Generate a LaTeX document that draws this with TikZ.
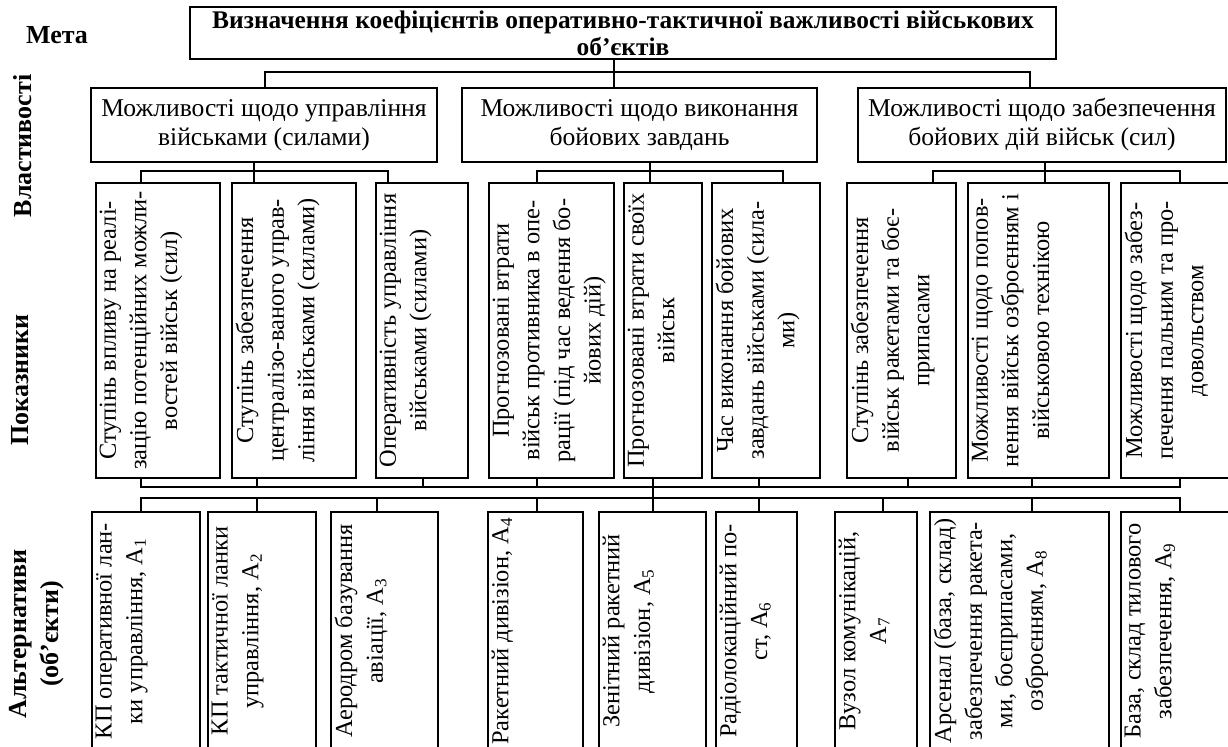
\documentclass[tikz,border=0pt]{standalone}
\usepackage{fontspec}
\setmainfont{Liberation Serif}

\begin{document}
\begin{tikzpicture}[x=0.5pt,y=-0.5pt,
	box/.style={draw,line width=0.7pt,inner sep=0pt},
	goalbox/.style={box,minimum width=433pt,minimum height=26pt,align=center,font=\bfseries\fontsize{12.7}{13.5}\selectfont},
	pbox/.style={box,minimum height=37pt,align=center,font=\fontsize{12.8}{14.5}\selectfont},
	ibox/.style={box,minimum height=147.5pt},
	abox/.style={box,minimum height=119pt},
	vtext/.style={rotate=90,anchor=north,align=center,inner xsep=0pt,inner ysep=2pt,font=\fontsize{12.2}{15.3}\selectfont},
	side/.style={inner sep=0pt,align=center,font=\bfseries\fontsize{13}{16}\selectfont},
	link/.style={line width=0.7pt}]
	
	\fill[white] (0,0) rectangle (1228,747);
	\useasboundingbox (0,0) rectangle (1228,747);
	\clip (0,0) rectangle (1228,747);
	
	% row titles
	\node[side] (meta) at (57,35) {Мета};
	\node[side,rotate=90] (vlast) at (23,146) {Властивості};
	\node[side,rotate=90] (pokaz) at (20,380) {Показники};
	\node[side,rotate=90] (alter) at (37,634) {Альтернативи\\(об’єкти)};
	
	% goal
	\node[goalbox] (goal) at (623,33) {Визначення коефіцієнтів оперативно-тактичної важливості військових\\об’єктів};
	
	% properties
	\node[pbox,minimum width=173pt] (P1) at (264,125) {Можливості щодо управління\\військами (силами)};
	\node[pbox,minimum width=177.5pt] (P2) at (639.5,125) {Можливості щодо виконання\\бойових завдань};
	\node[pbox,minimum width=184pt] (P3) at (1042,125) {Можливості щодо забезпечення\\бойових дій військ (сил)};
	
	% indicators
	\node[ibox,minimum width=62pt] (I1) at (158,330.5) {};
	\node[ibox,minimum width=62pt] (I2) at (294,330.5) {};
	\node[ibox,minimum width=46pt] (I3) at (422,330.5) {};
	\node[ibox,minimum width=62.5pt] (I4) at (551.5,330.5) {};
	\node[ibox,minimum width=39pt] (I5) at (663,330.5) {};
	\node[ibox,minimum width=54pt] (I6) at (766,330.5) {};
	\node[ibox,minimum width=54.5pt] (I7) at (901.5,330.5) {};
	\node[ibox,minimum width=70.5pt] (I8) at (1038.5,330.5) {};
	\node[ibox,minimum width=55.5pt] (I9) at (1176.5,330.5) {};
	
	\node[vtext] (I1t) at (I1.west) {Ступінь впливу на реалі-\\зацію потенційних можли-\\востей військ (сил)};
	\node[vtext] (I2t) at (I2.west) {Ступінь забезпечення\\централізо-ваного управ-\\ління військами (силами)};
	\node[vtext] (I3t) at (I3.west) {Оперативність управління\\військами (силами)};
	\node[vtext] (I4t) at (I4.west) {Прогнозовані втрати\\військ противника в опе-\\рації (під час ведення бо-\\йових дій)};
	\node[vtext] (I5t) at (I5.west) {Прогнозовані втрати своїх\\військ};
	\node[vtext] (I6t) at (I6.west) {Час виконання бойових\\завдань військами (сила-\\ми)};
	\node[vtext] (I7t) at (I7.west) {Ступінь забезпечення\\військ ракетами та боє-\\припасами};
	\node[vtext] (I8t) at (I8.west) {Можливості щодо попов-\\нення військ озброєнням і\\військовою технікою};
	\node[vtext] (I9t) at (I9.west) {Можливості щодо забез-\\печення пальним та про-\\довольством};
	
	% alternatives
	\node[abox,minimum width=54pt] (A1) at (146,631) {};
	\node[abox,minimum width=54pt] (A2) at (262,631) {};
	\node[abox,minimum width=53.5pt] (A3) at (384.5,631) {};
	\node[abox,minimum width=47.5pt] (A4) at (535.5,631) {};
	\node[abox,minimum width=53.5pt] (A5) at (652.5,631) {};
	\node[abox,minimum width=40.5pt] (A6) at (756.5,631) {};
	\node[abox,minimum width=41pt] (A7) at (876,631) {};
	\node[abox,minimum width=89.5pt] (A8) at (1019.5,631) {};
	\node[abox,minimum width=55.5pt] (A9) at (1176.5,631) {};
	
	\node[vtext] (A1t) at (A1.west) {КП оперативної лан-\\ки управління, A\textsubscript{1}};
	\node[vtext] (A2t) at (A2.west) {КП тактичної ланки\\управління, A\textsubscript{2}};
	\node[vtext] (A3t) at (A3.west) {Аеродром базування\\авіації, A\textsubscript{3}};
	\node[vtext] (A4t) at (A4.west) {Ракетний дивізіон, A\textsubscript{4}};
	\node[vtext] (A5t) at (A5.west) {Зенітний ракетний\\дивізіон, A\textsubscript{5}};
	\node[vtext] (A6t) at (A6.west) {Радіолокаційний по-\\ст, A\textsubscript{6}};
	\node[vtext] (A7t) at (A7.west) {Вузол комунікацій,\\A\textsubscript{7}};
	\node[vtext] (A8t) at (A8.west) {Арсенал (база, склад)\\забезпечення ракета-\\ми, боєприпасами,\\озброєнням, A\textsubscript{8}};
	\node[vtext] (A9t) at (A9.west) {База, склад тилового\\забезпечення, A\textsubscript{9}};
	
	% goal -> properties
	\draw[link] (614,0 |- goal.south) -- (614,0 |- P2.north);
	\draw[link] (265,0 |- P1.north) |- (1030,72) -- (1030,0 |- P3.north);
	
	% properties -> indicators
	\draw[link] (254,0 |- P1.south) -- (254,0 |- I2.north);
	\draw[link] (141,0 |- I1.north) |- (388,171) -- (388,0 |- I3.north);
	\draw[link] (650,0 |- P2.south) -- (650,0 |- I5.north);
	\draw[link] (537,0 |- I4.north) |- (783,171) -- (783,0 |- I6.north);
	\draw[link] (1045,0 |- P3.south) -- (1045,0 |- I8.north);
	\draw[link] (933,0 |- I7.north) |- (1180,171) -- (1180,0 |- I9.north);
	
	% indicators -> alternatives
	\draw[link] (141,0 |- I1.south) |- (1180,487) -- (1180,0 |- I9.south);
	\draw[link] (257,0 |- I2.south) -- (257,487);
	\draw[link] (423,0 |- I3.south) -- (423,487);
	\draw[link] (537,0 |- I4.south) -- (537,487);
	\draw[link] (759,0 |- I6.south) -- (759,487);
	\draw[link] (908,0 |- I7.south) -- (908,487);
	\draw[link] (1032,0 |- I8.south) -- (1032,487);
	\draw[link] (653,0 |- I5.south) -- (653,0 |- A5.north);
	\draw[link] (141,0 |- A1.north) |- (1180,498) -- (1180,0 |- A9.north);
	\draw[link] (257,498) -- (257,0 |- A2.north);
	\draw[link] (377,498) -- (377,0 |- A3.north);
	\draw[link] (537,498) -- (537,0 |- A4.north);
	\draw[link] (759,498) -- (759,0 |- A6.north);
	\draw[link] (883,498) -- (883,0 |- A7.north);
	\draw[link] (1032,498) -- (1032,0 |- A8.north);
\end{tikzpicture}
\end{document}
